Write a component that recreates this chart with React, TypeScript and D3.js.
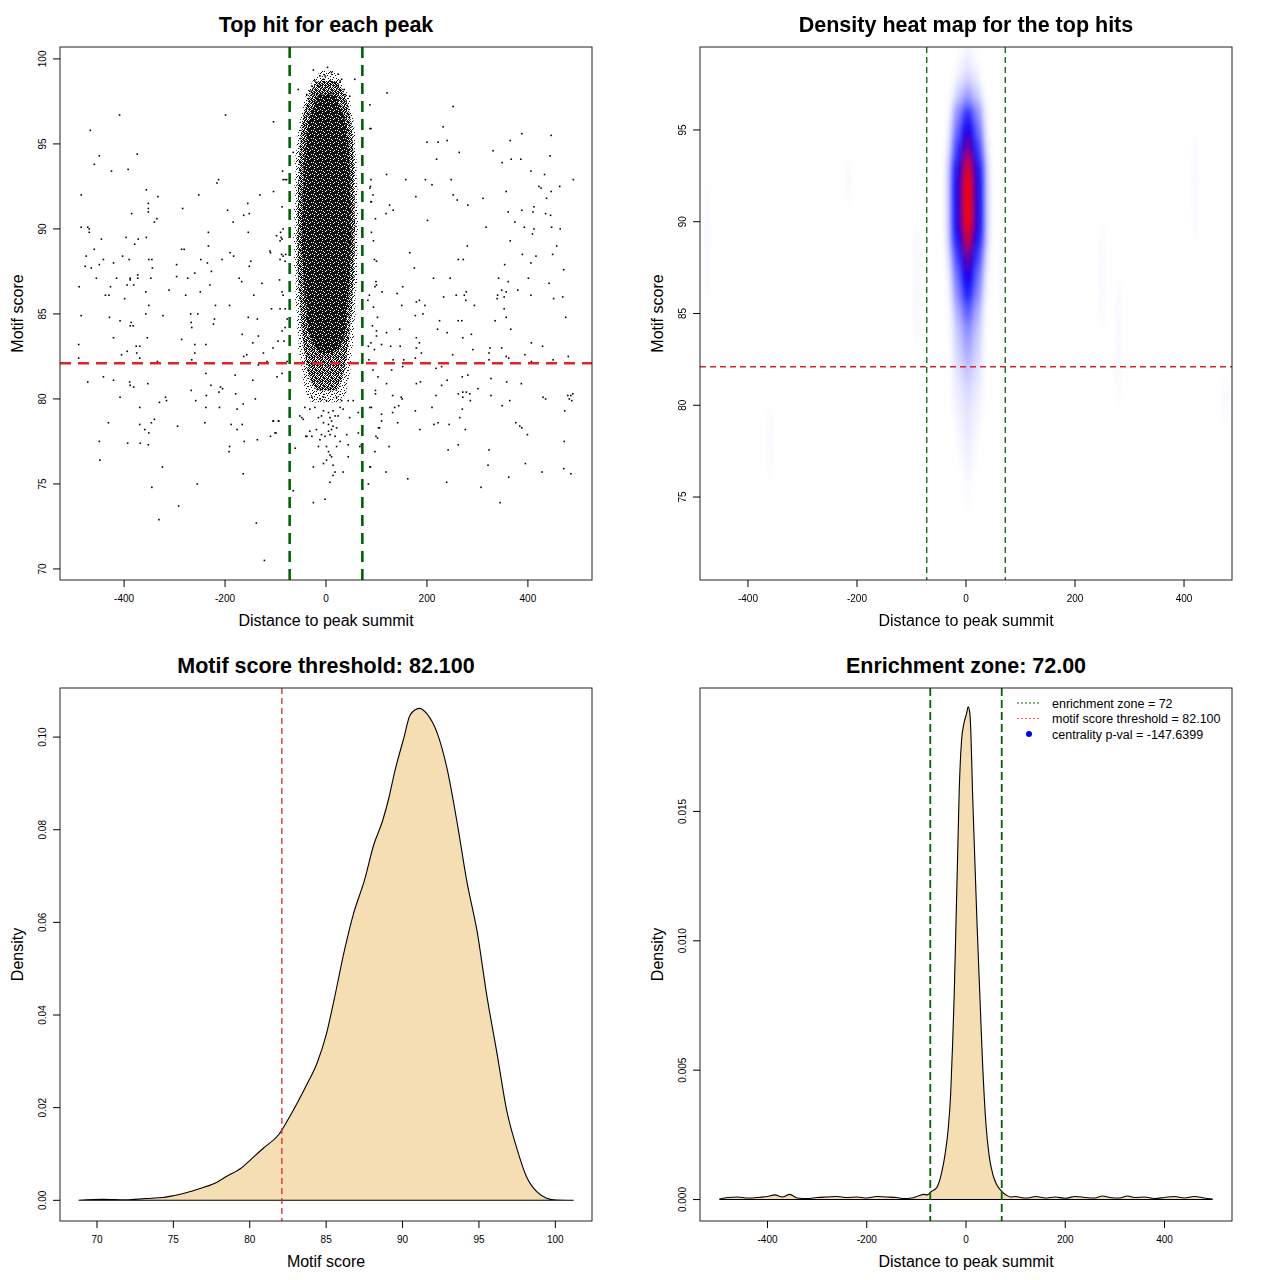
import { useEffect, useRef } from 'react'
import * as d3 from 'd3'

const FONT = '"Liberation Sans", Arial, Helvetica, sans-serif'

const ENRICHMENT_ZONE = 72
const SCORE_THRESHOLD = 82.1

// panel 1 - sparse hits left of the enrichment zone [distance, motif score]
const leftHits: [number, number][] = [
  [-409, 96.7], [-199, 96.7], [-104, 96.3], [-467, 95.8], [-449, 94.3], [-374, 94.4], [-459, 93.8], [-425, 93.4],
  [-392, 93.5], [-86, 93.4], [-85, 92.9], [-78, 92.9], [-213, 92.9], [-216, 92.7], [-485, 92.0], [-356, 92.3],
  [-333, 91.9], [-252, 92.0], [-131, 92.0], [-104, 92.2], [-352, 91.5], [-352, 91.2], [-352, 91.0], [-385, 90.9],
  [-284, 91.2], [-195, 91.1], [-155, 91.5], [-152, 90.9], [-163, 90.8], [-87, 91.3], [-335, 90.6], [-340, 90.4],
  [-184, 90.4], [-485, 90.1], [-472, 90.1], [-469, 90.0], [-469, 89.8], [-445, 89.4], [-396, 89.5], [-372, 89.4],
  [-356, 89.5], [-379, 89.1], [-233, 89.8], [-154, 89.8], [-90, 89.8], [-89, 89.5], [-87, 89.4], [-459, 88.8],
  [-286, 88.8], [-281, 88.8], [-233, 89.0], [-190, 88.6], [-183, 88.4], [-110, 88.6], [-85, 88.4], [-80, 88.5],
  [-475, 88.4], [-441, 88.2], [-403, 88.4], [-390, 88.2], [-351, 88.2], [-345, 88.2], [-248, 88.2], [-206, 88.2],
  [-477, 87.8], [-465, 87.7], [-449, 87.9], [-421, 88.0], [-344, 87.7], [-296, 87.9], [-235, 88.0], [-149, 88.1],
  [-152, 87.8], [-91, 88.2], [-81, 88.1], [-227, 87.5], [-260, 87.4], [-455, 87.1], [-415, 87.1], [-388, 87.1],
  [-388, 87.0], [-373, 87.3], [-373, 87.1], [-347, 87.1], [-296, 87.2], [-274, 87.1], [-172, 87.1], [-167, 86.9],
  [-127, 86.8], [-92, 87.0], [-489, 86.6], [-427, 86.6], [-394, 86.7], [-381, 86.7], [-311, 86.4], [-230, 86.7],
  [-357, 86.3], [-249, 86.3], [-87, 86.3], [-85, 86.1], [-437, 86.1], [-430, 86.1], [-399, 85.9], [-278, 86.1],
  [-143, 86.1], [-351, 85.5], [-219, 85.5], [-191, 85.5], [-108, 85.3], [-81, 85.3],
  [-485, 84.9], [-429, 84.8], [-357, 85.0], [-323, 84.9], [-268, 85.0], [-254, 85.0], [-408, 84.6], [-386, 84.5],
  [-388, 84.3], [-382, 84.3], [-267, 84.5], [-266, 84.2], [-221, 84.7], [-223, 84.4], [-154, 84.8], [-136, 84.7],
  [-421, 83.6], [-354, 83.6], [-286, 83.5], [-166, 83.8], [-134, 83.7], [-87, 84.0], [-81, 84.2], [-77, 84.7],
  [-95, 83.4], [-83, 83.4], [-490, 83.2], [-376, 83.1], [-369, 83.1], [-260, 83.2], [-238, 83.2], [-145, 83.3],
  [-105, 83.0], [-394, 82.8], [-405, 82.6], [-375, 82.7], [-369, 82.4], [-260, 82.7], [-124, 82.7], [-490, 82.4],
  [-163, 82.5], [-157, 82.6], [-266, 82.3], [-334, 82.2], [-117, 82.2], [-134, 82.0], [-77, 82.2], [-238, 81.5],
  [-180, 81.4], [-97, 81.3], [-87, 81.5], [-472, 81.0], [-441, 81.3], [-421, 81.1], [-389, 81.0], [-388, 80.8],
  [-381, 80.7], [-353, 80.9], [-228, 80.8], [-145, 81.1], [-267, 80.5], [-209, 80.7], [-205, 80.6], [-212, 80.4],
  [-237, 80.2], [-179, 80.3], [-408, 80.1], [-318, 80.1], [-316, 79.9], [-330, 79.8], [-258, 79.9], [-140, 80.0],
  [-369, 79.5], [-238, 79.5], [-211, 79.5], [-176, 79.4], [-164, 79.7], [-431, 78.6], [-369, 78.5], [-340, 78.8],
  [-346, 78.6], [-359, 78.2], [-351, 78.0], [-294, 78.4], [-240, 78.6], [-188, 78.5], [-166, 78.5], [-176, 78.2],
  [-105, 78.7], [-94, 78.7], [-99, 78.0], [-110, 77.8], [-449, 77.5], [-393, 77.4], [-368, 77.4], [-352, 77.3],
  [-191, 77.2], [-192, 76.9], [-162, 77.5], [-136, 77.6], [-448, 76.4], [-324, 76.0], [-164, 75.6], [-255, 75.0],
  [-345, 74.8], [-292, 73.7], [-331, 72.9], [-138, 72.7], [-122, 70.5],
]

// panel 1 - sparse hits right of the enrichment zone
const rightHits: [number, number][] = [
  [121, 98.0], [87, 97.3], [252, 97.2], [232, 96.0], [89, 95.9], [200, 95.1], [222, 95.1], [240, 95.2],
  [365, 95.2], [388, 95.6], [446, 95.5], [264, 94.5], [331, 94.6], [219, 94.1], [349, 93.9], [367, 94.1],
  [386, 94.1], [444, 94.3], [120, 93.2], [158, 92.9], [197, 92.9], [248, 92.9], [89, 92.9], [210, 92.6],
  [406, 93.4], [433, 93.2], [490, 92.9], [88, 92.5], [422, 92.5], [426, 92.4], [463, 92.5], [357, 92.2],
  [446, 92.2], [437, 91.8], [93, 92.0], [178, 91.9], [252, 92.0], [260, 91.7], [311, 91.8], [89, 91.6],
  [126, 91.4], [133, 91.1], [119, 90.9], [281, 91.4], [412, 91.3], [361, 91.0], [388, 91.1], [410, 91.0],
  [435, 90.9], [445, 90.8], [98, 90.6], [201, 90.5], [374, 90.4], [317, 90.1], [393, 90.1], [412, 90.0],
  [409, 89.7], [447, 90.1], [464, 90.0], [365, 89.3], [280, 89.0], [457, 89.0], [166, 88.6], [389, 88.5],
  [416, 88.4], [449, 88.5], [96, 88.2], [262, 88.2], [272, 88.2], [406, 88.0], [354, 87.9], [175, 87.7],
  [471, 87.6], [213, 87.1], [246, 87.1], [342, 87.1], [401, 87.1], [361, 86.9], [442, 86.8], [100, 86.7],
  [97, 86.6], [111, 86.3], [152, 86.6], [141, 86.2], [233, 86.0], [258, 86.1], [278, 86.3], [274, 86.1],
  [277, 85.8], [348, 86.4], [357, 86.3], [340, 86.1], [339, 85.9], [353, 86.0], [380, 86.4], [406, 86.1],
  [451, 85.9], [469, 86.0], [86, 86.1], [83, 85.8], [94, 85.4], [150, 85.5], [179, 85.7], [185, 85.8],
  [196, 85.5], [294, 85.5], [353, 85.3],
  [102, 84.8], [177, 84.9], [192, 85.0], [225, 84.6], [262, 84.6], [269, 84.6], [335, 84.6], [357, 84.8],
  [366, 84.1], [475, 84.8], [92, 84.3], [100, 84.0], [100, 83.7], [120, 83.9], [146, 84.1], [221, 84.1],
  [240, 83.9], [271, 83.6], [288, 83.8], [89, 83.3], [84, 83.1], [110, 83.2], [128, 83.1], [147, 83.1],
  [96, 82.9], [179, 83.6], [185, 83.3], [179, 83.0], [189, 82.7], [177, 82.4], [251, 82.6], [291, 82.9],
  [325, 83.0], [323, 82.7], [348, 83.0], [323, 82.3], [357, 82.5], [362, 82.4], [394, 82.6], [407, 83.3],
  [429, 83.1], [480, 82.5], [85, 82.3], [133, 82.3], [154, 82.3], [407, 82.2], [450, 82.3], [93, 81.7],
  [130, 81.7], [152, 81.9], [218, 81.8], [229, 81.9], [103, 81.3], [120, 80.9], [179, 80.9], [187, 81.0],
  [240, 81.1], [229, 80.8], [270, 81.3], [281, 81.4], [327, 81.2], [358, 81.0], [387, 80.9], [98, 80.5],
  [98, 80.3], [132, 80.2], [149, 80.1], [151, 80.0], [218, 80.2], [262, 80.3], [271, 80.4], [278, 80.4],
  [285, 80.3], [271, 80.1], [286, 79.9], [301, 80.6], [327, 80.2], [364, 79.9], [430, 80.1], [435, 80.0],
  [479, 80.2], [485, 80.2], [489, 80.3], [482, 80.0], [487, 79.9], [90, 79.5], [136, 79.5], [144, 79.6],
  [132, 79.2], [177, 79.3], [210, 79.5], [270, 79.4], [349, 79.6], [473, 79.3], [110, 79.1], [110, 78.7],
  [106, 78.3], [142, 78.6], [214, 78.5], [222, 78.6], [244, 78.5], [186, 78.2], [265, 78.9], [276, 78.2],
  [376, 78.6], [384, 78.4], [388, 78.3], [399, 77.9], [102, 77.7], [125, 77.2], [97, 76.9], [242, 77.0],
  [262, 77.3], [323, 77.0], [472, 77.5], [88, 76.0], [119, 75.7], [162, 75.3], [239, 75.1], [307, 74.8],
  [321, 76.1], [395, 76.2], [362, 75.4], [428, 75.7], [471, 75.9], [485, 75.6], [345, 73.9],
]

// panel 1 - hits around the summit that stand apart from the dense cloud
const centreHits: [number, number][] = [
  [-25, 99.35], [3, 99.5], [-12, 99.0], [-2, 99.0], [11, 99.2], [24, 99.1], [31, 98.8], [-22, 98.7],
  [-5, 98.8], [8, 98.7], [18, 98.6], [28, 98.7], [-28, 98.4], [-15, 98.4], [-2, 98.3], [21, 98.4],
  [36, 98.2], [-32, 98.1], [-19, 97.9], [11, 98.0], [38, 97.9], [47, 97.8], [-55, 98.2], [-38, 97.9],
  [57, 98.8], [87, 95.9], [-71, 95.0], [-65, 94.5], [-81, 92.9], [87, 92.4], [90, 91.6], [-85, 90.0],
  [-98, 89.6], [-91, 89.3], [-111, 88.7], [-88, 88.5], [90, 89.8], [94, 89.3], [100, 88.1], [99, 86.9],
  [-91, 85.3], [-28, 80.1], [-12, 80.0], [-5, 80.1], [1, 79.9], [21, 80.1], [31, 79.9], [44, 79.9],
  [54, 79.9], [-42, 79.5], [-32, 79.4], [-22, 79.5], [-5, 79.3], [5, 79.2], [14, 79.3], [28, 79.5],
  [34, 79.4], [-52, 79.0], [-48, 78.9], [-45, 78.8], [-15, 78.9], [-9, 79.0], [8, 78.9], [18, 79.0],
  [24, 79.0], [47, 78.9], [64, 79.2], [-5, 78.6], [5, 78.5], [11, 78.7], [14, 78.4], [21, 78.3],
  [-19, 78.2], [5, 78.1], [11, 78.2], [41, 77.9], [-32, 78.1], [-28, 77.8], [-40, 77.8], [-9, 77.9],
  [-2, 77.8], [8, 77.9], [18, 77.8], [28, 77.5], [-12, 77.6], [-15, 77.2], [1, 77.2], [21, 77.2],
  [44, 77.3], [5, 76.9], [8, 76.7], [11, 76.6], [1, 76.4], [-5, 76.2], [14, 76.1], [-25, 76.0],
  [18, 75.7], [14, 75.5], [8, 75.1], [-25, 73.9], [-2, 74.1], [-65, 74.6], [34, 75.7], [44, 76.6],
  [70, 77.3], [87, 76.0], [84, 75.0], [-61, 77.1], [-38, 77.8], [-101, 78.0], [-104, 78.7], [-94, 78.7],
  [87, 79.5], [99, 77.8], [104, 78.3], [64, 78.0], [67, 77.2],
]

// panel 1 - outlines of the crowded cloud at the summit (score -> left / right edge), three crowding levels
const haloScores = [99.3, 98.9, 98.5, 98.0, 97.5, 97.0, 96.3, 95.5, 94.8, 94.0, 93.2, 92.5, 91.7, 91.0, 90.2, 89.5, 88.7, 88.0, 87.2, 86.5, 85.7, 85.0, 84.3, 83.6, 83.0, 82.3, 81.6, 81.0, 80.4, 79.8]
const haloLeft = [-10, -22, -30, -38, -44, -47, -52, -56, -58, -62, -60, -63, -61, -64, -62, -65, -63, -64, -61, -60, -62, -57, -58, -54, -55, -50, -48, -45, -40, -30]
const haloRight = [14, 24, 34, 42, 48, 50, 55, 58, 57, 61, 60, 63, 61, 63, 64, 62, 63, 61, 62, 60, 58, 59, 55, 56, 52, 50, 48, 44, 40, 30]
const midScores = [98.7, 98.2, 97.6, 97.0, 96.3, 95.5, 94.8, 94.0, 93.2, 92.5, 91.7, 91.0, 90.2, 89.5, 88.7, 88.0, 87.2, 86.5, 85.7, 85.0, 84.3, 83.6, 83.0, 82.3, 81.6, 81.0, 80.5]
const midLeft = [-18, -28, -36, -42, -47, -50, -52, -54, -53, -56, -55, -57, -55, -58, -56, -57, -55, -54, -52, -50, -49, -46, -44, -40, -36, -30, -18]
const midRight = [22, 32, 40, 46, 50, 52, 54, 55, 56, 55, 57, 56, 58, 56, 57, 55, 56, 53, 52, 51, 48, 46, 43, 40, 36, 30, 20]
const coreScores = [97.9, 97.4, 96.8, 96.0, 95.2, 94.4, 93.6, 92.8, 92.0, 91.2, 90.4, 89.6, 88.8, 88.0, 87.2, 86.4, 85.6, 84.8, 84.0, 83.3, 82.7]
const coreLeft = [-14, -22, -30, -36, -40, -42, -45, -44, -47, -46, -48, -47, -48, -46, -45, -43, -41, -38, -35, -28, -14]
const coreRight = [18, 26, 34, 40, 44, 46, 47, 49, 48, 50, 49, 51, 49, 48, 47, 45, 43, 41, 38, 32, 16]

// panel 2 - heat map rows (score, peak level 0..1, half width in bp)
const HEAT_CENTRE = 3
const heatRowScores = [99, 98, 97, 96, 95, 94, 93, 92, 91, 90, 89, 88, 87, 86, 85, 84, 83, 82, 81, 80, 79, 78, 77, 76, 75]
const heatRowPeak = [0.03, 0.07, 0.18, 0.42, 0.56, 0.72, 0.92, 1, 1, 1, 0.88, 0.7, 0.55, 0.45, 0.32, 0.22, 0.17, 0.12, 0.08, 0.06, 0.045, 0.035, 0.025, 0.015, 0.008]
const heatRowHalfWidth = [28, 34, 40, 44, 46, 48, 50, 50, 50, 50, 50, 48, 46, 44, 42, 42, 42, 42, 42, 40, 35, 30, 25, 20, 15]
const heatProfileOffsets = [-1, -0.7, -0.5, -0.3, -0.15, 0, 0.15, 0.3, 0.5, 0.7, 1]
const heatProfileShare = [0, 0.12, 0.45, 0.62, 0.88, 1, 0.88, 0.62, 0.45, 0.12, 0]
// faint streaks left by the outlying hits [distance, low score, high score]
const heatStreaks: [number, number, number][] = [
  [-475, 86, 92], [-360, 76, 80], [-216, 91, 93.5], [-90, 83, 90], [65, 85, 89], [250, 84, 90],
  [280, 80, 87], [420, 89, 95], [475, 79, 81.5],
]

// panel 3 - density of motif scores
const scoreGrid = [68.8, 70.4, 71.9, 73.2, 74.3, 75.0, 75.9, 76.7, 77.6, 78.5, 79.5, 80.1, 80.9, 81.9, 82.6, 83.7, 84.4, 85.0, 85.5, 86.2, 86.8, 87.5, 88.1, 88.7, 89.1, 89.5, 90.1, 90.5, 91.1, 91.6, 92.3, 92.9, 93.6, 94.2, 94.9, 95.5, 96.2, 96.8, 97.5, 98.1, 98.8, 99.4, 99.9, 101.2]
const scoreDensity = [0, 0.0002, 0.0001, 0.0004, 0.0006, 0.001, 0.0017, 0.0025, 0.0035, 0.0052, 0.0071, 0.0089, 0.0113, 0.0142, 0.018, 0.0248, 0.0296, 0.0357, 0.043, 0.054, 0.062, 0.069, 0.0766, 0.082, 0.0868, 0.0927, 0.1, 0.1048, 0.1062, 0.105, 0.1006, 0.0934, 0.081, 0.069, 0.0577, 0.0445, 0.0314, 0.0197, 0.011, 0.0052, 0.0018, 0.0005, 0.0001, 0]

// panel 4 - density of distances to the summit
const distanceGrid = [
  -496, -480, -460, -440, -420, -400, -385, -370, -355, -340, -320, -300, -280, -260, -240, -220, -200, -180, -160, -140,
  -125, -110, -95, -85, -78, -70.6, -59, -49, -42.6, -35.8, -31, -27, -23.7, -20.3, -17, -13.7, -9, -4.3, 1.1, 4.4,
  7.7, 9.7, 13.1, 17.7, 22.4, 27.8, 33.2, 39.9, 46.6, 54.7, 61.4, 71.5, 81.5, 90, 100, 110, 125, 140, 160, 180,
  200, 220, 240, 260, 275, 290, 310, 325, 340, 360, 380, 400, 420, 440, 460, 480, 496,
]
const distanceDensity = [
  0.00002, 0.00008, 0.0001, 0.00006, 0.00008, 0.00012, 0.00018, 0.0001, 0.0002, 0.00006, 0.00004, 0.00008, 0.0001, 0.00012, 0.00008, 0.0001, 0.00006, 0.00012, 0.0001, 0.00008,
  0.00004, 0.00006, 0.00015, 0.0002, 0.00018, 0.0003, 0.00046, 0.00105, 0.0017, 0.00274, 0.00405, 0.006, 0.00795, 0.01058, 0.01317, 0.01578, 0.01773, 0.01839, 0.01878, 0.01904,
  0.0188, 0.01813, 0.01578, 0.01317, 0.01058, 0.00795, 0.00535, 0.003, 0.0017, 0.00093, 0.00059, 0.00033, 0.00017, 0.0001, 0.00012, 0.00008, 0.00006, 0.00012, 0.00006, 0.0001,
  0.00005, 0.00012, 0.00008, 0.00006, 0.00014, 0.00008, 0.00006, 0.00014, 0.00008, 0.0001, 0.00004, 0.00008, 0.00012, 0.00006, 0.00012, 0.00006, 0.00002,
]

const legendLabels = ['enrichment zone = 72', 'motif score threshold = 82.100', 'centrality p-val = -147.6399']

const PANEL_W = 532
const PANEL_H = 533
const boxes = {
  scatter: { left: 60, top: 47 },
  heat: { left: 700, top: 47 },
  score: { left: 60, top: 688 },
  distance: { left: 700, top: 688 },
}

// R prints plain hyphens, not unicode minus signs
const plain = (d: number) => String(d)
const fixed = (n: number) => (d: number) => d.toFixed(n)

function panel(svg: any, box: { left: number; top: number }) {
  return svg.append('g').attr('transform', `translate(${box.left}, ${box.top})`)
}

// 8x8 dot textures, listed as [column, row] pixels
function dotPattern(defs: any, id: string, cells: number[][], ink: string, paper: string | null) {
  const p = defs.append('pattern').attr('id', id).attr('patternUnits', 'userSpaceOnUse').attr('width', 8).attr('height', 8)
  if (paper) p.append('rect').attr('width', 8).attr('height', 8).attr('fill', paper)
  cells.forEach(([a, b]) => p.append('rect').attr('x', a).attr('y', b).attr('width', 1).attr('height', 1).attr('fill', ink))
}

function frame(g: any, x: any, y: any, xTicks: number[], yTicks: number[], xFmt: any, yFmt: any, title: string, xTitle: string, yTitle: string) {
  const h = PANEL_H
  g.append('rect')
    .attr('width', PANEL_W)
    .attr('height', h)
    .attr('fill', 'none')
    .attr('stroke', '#222')
    .attr('stroke-width', 1)

  // X axis
  g.append('g')
    .selectAll('line')
    .data(xTicks)
    .join('line')
    .attr('x1', (d: number) => x(d))
    .attr('x2', (d: number) => x(d))
    .attr('y1', h)
    .attr('y2', h + 7)
    .attr('stroke', '#000')
  g.append('g')
    .selectAll('text')
    .data(xTicks)
    .join('text')
    .attr('x', (d: number) => x(d))
    .attr('y', h + 22)
    .attr('text-anchor', 'middle')
    .attr('font-size', 10)
    .text(xFmt)

  // Y axis
  g.append('g')
    .selectAll('line')
    .data(yTicks)
    .join('line')
    .attr('x1', 0)
    .attr('x2', -7)
    .attr('y1', (d: number) => y(d))
    .attr('y2', (d: number) => y(d))
    .attr('stroke', '#000')
  g.append('g')
    .selectAll('text')
    .data(yTicks)
    .join('text')
    .attr('transform', (d: number) => `translate(-14, ${y(d)}) rotate(-90)`)
    .attr('text-anchor', 'middle')
    .attr('font-size', 10)
    .text(yFmt)

  // Titles
  g.append('text')
    .attr('x', PANEL_W / 2)
    .attr('y', -15)
    .attr('text-anchor', 'middle')
    .attr('font-size', 21.5)
    .attr('font-weight', 700)
    .text(title)
  g.append('text')
    .attr('x', PANEL_W / 2)
    .attr('y', h + 46)
    .attr('text-anchor', 'middle')
    .attr('font-size', 16)
    .text(xTitle)
  g.append('text')
    .attr('transform', `translate(-37, ${h / 2}) rotate(-90)`)
    .attr('text-anchor', 'middle')
    .attr('font-size', 16)
    .text(yTitle)
}

export default function App() {
  const svgRef = useRef<SVGSVGElement>(null)

  useEffect(() => {
    if (!svgRef.current) return
    const svg = d3.select(svgRef.current)
    svg.selectAll('*').remove()
    svg.attr('font-family', FONT)
    const defs = svg.append('defs')

    // dot textures for the crowded cloud
    dotPattern(defs, 'coreDots', [[1, 0], [6, 1], [3, 3], [7, 4], [0, 5], [4, 6], [2, 7], [5, 3], [6, 7]], '#fff', '#111')
    dotPattern(defs, 'midDots', [
      [0, 0], [2, 0], [3, 0], [5, 0], [6, 0], [1, 1], [4, 1], [5, 1], [7, 1], [0, 2], [2, 2], [6, 2], [7, 2], [1, 3], [3, 3],
      [4, 3], [7, 3], [0, 4], [2, 4], [5, 4], [6, 4], [1, 5], [3, 5], [4, 5], [7, 5], [0, 6], [2, 6], [4, 6], [5, 6], [6, 6],
      [1, 7], [3, 7], [6, 7],
    ], '#111', null)
    dotPattern(defs, 'haloDots', [[0, 0], [5, 1], [2, 2], [7, 3], [3, 4], [6, 5], [1, 6], [4, 7], [6, 0], [0, 3], [4, 2]], '#111', null)

    // ---------- Panel 1: scatter ----------
    {
      const g = panel(svg, boxes.scatter)
      const x = d3.scaleLinear().domain([-527, 527]).range([0, PANEL_W])
      const y = d3.scaleLinear().domain([69.35, 100.7]).range([PANEL_H, 0])

      const band = (lefts: number[], rights: number[]) =>
        d3
          .area<number>()
          .y(d => y(d))
          .x0((_d, i) => x(lefts[i]))
          .x1((_d, i) => x(rights[i]))
          .curve(d3.curveLinear)

      g.append('path').datum(haloScores).attr('d', band(haloLeft, haloRight)).attr('fill', 'url(#haloDots)')
      g.append('path').datum(midScores).attr('d', band(midLeft, midRight)).attr('fill', 'url(#midDots)')
      g.append('path').datum(coreScores).attr('d', band(coreLeft, coreRight)).attr('fill', 'url(#coreDots)')

      g.append('g')
        .selectAll('rect')
        .data([...leftHits, ...rightHits, ...centreHits])
        .join('rect')
        .attr('x', (d: [number, number]) => x(d[0]) - 0.8)
        .attr('y', (d: [number, number]) => y(d[1]) - 0.8)
        .attr('width', 1.6)
        .attr('height', 1.6)
        .attr('fill', '#000')

      g.append('g')
        .selectAll('line')
        .data([-ENRICHMENT_ZONE, ENRICHMENT_ZONE])
        .join('line')
        .attr('x1', (d: number) => x(d))
        .attr('x2', (d: number) => x(d))
        .attr('y1', 0)
        .attr('y2', PANEL_H)
        .attr('stroke', '#006400')
        .attr('stroke-width', 2.6)
        .attr('stroke-dasharray', '11 7')
      g.append('line')
        .attr('x1', 0)
        .attr('x2', PANEL_W)
        .attr('y1', y(SCORE_THRESHOLD))
        .attr('y2', y(SCORE_THRESHOLD))
        .attr('stroke', '#e02424')
        .attr('stroke-width', 2.6)
        .attr('stroke-dasharray', '11 7')

      frame(g, x, y, [-400, -200, 0, 200, 400], [70, 75, 80, 85, 90, 95, 100], plain, plain,
        'Top hit for each peak', 'Distance to peak summit', 'Motif score')
    }

    // ---------- Panel 2: heat map ----------
    {
      const g = panel(svg, boxes.heat)
      const x = d3.scaleLinear().domain([-488, 488]).range([0, PANEL_W])
      const y = d3.scaleLinear().domain([70.48, 99.52]).range([PANEL_H, 0])
      const colour = d3.scaleLinear<string>().domain([0, 0.5, 1]).range(['#ffffff', '#0000ff', '#ff0000']).clamp(true)

      defs.append('clipPath').attr('id', 'heatClip').append('rect').attr('width', PANEL_W).attr('height', PANEL_H)
      const blur = defs.append('filter').attr('id', 'heatBlur').attr('x', '-50%').attr('y', '-20%').attr('width', '200%').attr('height', '140%')
      blur.append('feGaussianBlur').attr('stdDeviation', '1.5 7')
      const streakBlur = defs.append('filter').attr('id', 'streakBlur').attr('x', '-100%').attr('y', '-50%').attr('width', '300%').attr('height', '200%')
      streakBlur.append('feGaussianBlur').attr('stdDeviation', '2 6')

      const clip = g.append('g').attr('clip-path', 'url(#heatClip)')

      clip.append('g')
        .attr('filter', 'url(#streakBlur)')
        .selectAll('ellipse')
        .data(heatStreaks)
        .join('ellipse')
        .attr('cx', (d: [number, number, number]) => x(d[0]))
        .attr('cy', (d: [number, number, number]) => y((d[1] + d[2]) / 2))
        .attr('rx', 3)
        .attr('ry', (d: [number, number, number]) => (y(d[1]) - y(d[2])) / 2)
        .attr('fill', '#ececff')
        .attr('opacity', 0.35)

      const rows = clip.append('g').attr('filter', 'url(#heatBlur)')
      heatRowScores.forEach((s, i) => {
        const id = `heatRow${i}`
        const grad = defs.append('linearGradient').attr('id', id).attr('x1', '0%').attr('x2', '100%').attr('y1', '0%').attr('y2', '0%')
        heatProfileOffsets.forEach((o, k) => {
          grad.append('stop')
            .attr('offset', `${((o + 1) / 2) * 100}%`)
            .attr('stop-color', colour(heatRowPeak[i] * heatProfileShare[k]))
            .attr('stop-opacity', heatProfileShare[k] === 0 ? 0 : 1)
        })
        const hw = heatRowHalfWidth[i]
        rows.append('rect')
          .attr('x', x(HEAT_CENTRE - hw))
          .attr('width', x(HEAT_CENTRE + hw) - x(HEAT_CENTRE - hw))
          .attr('y', y(s + 0.5))
          .attr('height', y(s - 0.5) - y(s + 0.5))
          .attr('fill', `url(#${id})`)
      })

      g.append('g')
        .selectAll('line')
        .data([-ENRICHMENT_ZONE, ENRICHMENT_ZONE])
        .join('line')
        .attr('x1', (d: number) => x(d))
        .attr('x2', (d: number) => x(d))
        .attr('y1', 0)
        .attr('y2', PANEL_H)
        .attr('stroke', '#006400')
        .attr('stroke-width', 1.3)
        .attr('stroke-dasharray', '6 4')
      g.append('line')
        .attr('x1', 0)
        .attr('x2', PANEL_W)
        .attr('y1', y(SCORE_THRESHOLD))
        .attr('y2', y(SCORE_THRESHOLD))
        .attr('stroke', '#d42a2a')
        .attr('stroke-width', 1.3)
        .attr('stroke-dasharray', '6 4')

      frame(g, x, y, [-400, -200, 0, 200, 400], [75, 80, 85, 90, 95], plain, plain,
        'Density heat map for the top hits', 'Distance to peak summit', 'Motif score')
    }

    // ---------- Panel 3: score density ----------
    {
      const g = panel(svg, boxes.score)
      const x = d3.scaleLinear().domain([67.58, 102.4]).range([0, PANEL_W])
      const y = d3.scaleLinear().domain([-0.00425, 0.1106]).range([PANEL_H - 1, 0])
      const area = d3
        .area<number>()
        .x((_d, i) => x(scoreGrid[i]))
        .y0(y(0))
        .y1(d => y(d))
        .curve(d3.curveMonotoneX)

      g.append('path')
        .datum(scoreDensity)
        .attr('d', area)
        .attr('fill', '#f5deb3')
        .attr('stroke', '#000')
        .attr('stroke-width', 1.1)
      g.append('line')
        .attr('x1', x(SCORE_THRESHOLD))
        .attr('x2', x(SCORE_THRESHOLD))
        .attr('y1', 0)
        .attr('y2', PANEL_H)
        .attr('stroke', '#d42a2a')
        .attr('stroke-width', 1.3)
        .attr('stroke-dasharray', '6 4')

      frame(g, x, y, [70, 75, 80, 85, 90, 95, 100], [0, 0.02, 0.04, 0.06, 0.08, 0.1], plain, fixed(2),
        'Motif score threshold: 82.100', 'Motif score', 'Density')
    }

    // ---------- Panel 4: distance density ----------
    {
      const g = panel(svg, boxes.distance)
      const x = d3.scaleLinear().domain([-536, 536]).range([0, PANEL_W])
      const y = d3.scaleLinear().domain([-0.00079, 0.01977]).range([PANEL_H - 1, 0])
      const area = d3
        .area<number>()
        .x((_d, i) => x(distanceGrid[i]))
        .y0(y(0))
        .y1(d => y(d))
        .curve(d3.curveMonotoneX)

      g.append('path')
        .datum(distanceDensity)
        .attr('d', area)
        .attr('fill', '#f5deb3')
        .attr('stroke', '#000')
        .attr('stroke-width', 1.1)
      g.append('g')
        .selectAll('line')
        .data([-ENRICHMENT_ZONE, ENRICHMENT_ZONE])
        .join('line')
        .attr('x1', (d: number) => x(d))
        .attr('x2', (d: number) => x(d))
        .attr('y1', 0)
        .attr('y2', PANEL_H)
        .attr('stroke', '#006400')
        .attr('stroke-width', 1.8)
        .attr('stroke-dasharray', '8 4')

      // Legend
      const legend = g.append('g').attr('transform', 'translate(317, 15)')
      const rowH = 15.5
      legend.append('line').attr('x1', 0).attr('x2', 24).attr('y1', 0).attr('y2', 0)
        .attr('stroke', '#006400').attr('stroke-width', 1).attr('stroke-dasharray', '2 2')
      legend.append('line').attr('x1', 0).attr('x2', 24).attr('y1', rowH).attr('y2', rowH)
        .attr('stroke', '#f06060').attr('stroke-width', 1).attr('stroke-dasharray', '2 2')
      legend.append('circle').attr('cx', 12).attr('cy', rowH * 2).attr('r', 3).attr('fill', '#0000ff')
      legend.append('g')
        .selectAll('text')
        .data(legendLabels)
        .join('text')
        .attr('x', 35)
        .attr('y', (_d: string, i: number) => i * rowH + 4.5)
        .attr('font-size', 12.5)
        .text((d: string) => d)

      frame(g, x, y, [-400, -200, 0, 200, 400], [0, 0.005, 0.01, 0.015], plain, fixed(3),
        'Enrichment zone: 72.00', 'Distance to peak summit', 'Density')
    }
  }, [])

  return (
    <svg
      ref={svgRef}
      width={1280}
      height={1280}
      style={{ position: 'absolute', left: 0, top: 0, background: '#fff', display: 'block' }}
    />
  )
}
